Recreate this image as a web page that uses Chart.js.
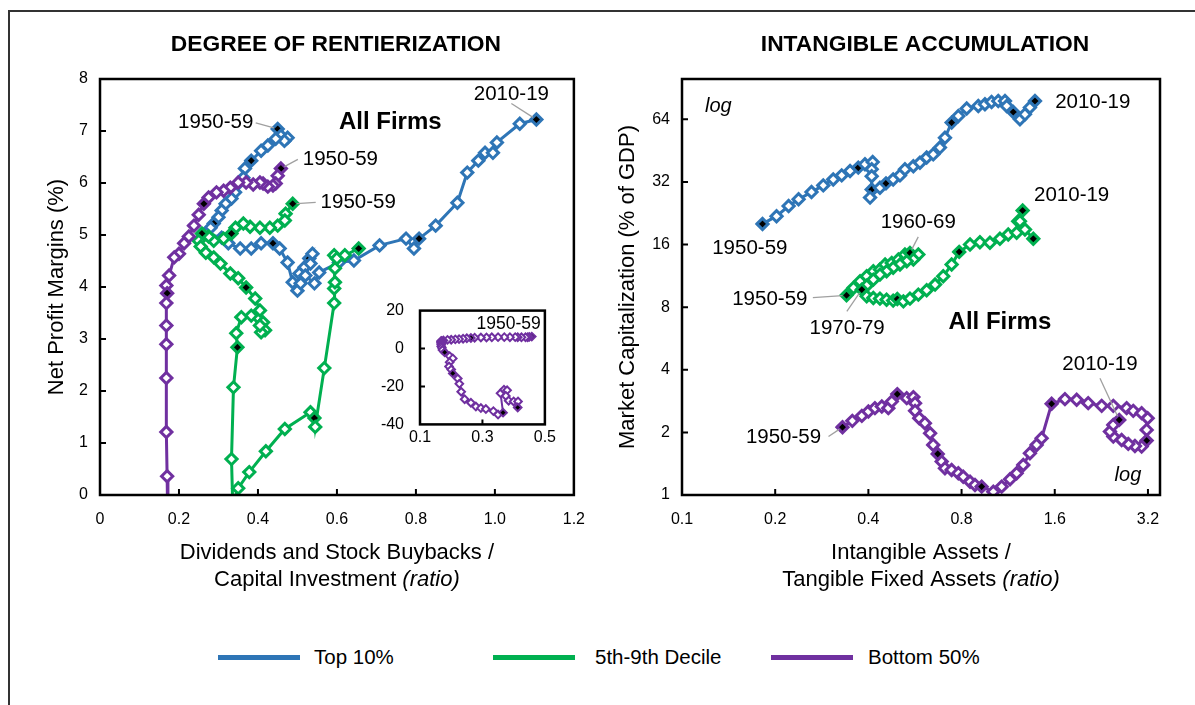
<!DOCTYPE html>
<html>
<head>
<meta charset="utf-8">
<script src="https://cdn.jsdelivr.net/npm/chart.js@4.4.0/dist/chart.umd.min.js"></script>
<style>
  body { margin: 0; background: #fff; }
  #page { position: relative; width: 1195px; height: 705px; overflow: hidden; font-family: 'Liberation Sans', Arial, sans-serif; background: #fff; }
  #frame { position: absolute; left: 8px; top: 10px; width: 1220px; height: 740px; border: 2px solid #333; box-sizing: border-box; }
  canvas { position: absolute; }
  .sw { position: absolute; height: 5px; width: 82px; top: 655px; }
  .lt { position: absolute; top: 645px; font-size: 20.5px; color: #000; }
</style>
</head>
<body>
<div id="page">
  <div id="frame"></div>
  <canvas id="rentChart" width="600" height="600" style="left:0;top:0"></canvas>
  <canvas id="insetChart" width="190" height="165" style="left:370px;top:285px"></canvas>
  <canvas id="intangChart" width="595" height="600" style="left:600px;top:0"></canvas>
  <div class="sw" style="left:218px;background:#2E75B6"></div><div class="lt" style="left:314px">Top 10%</div>
  <div class="sw" style="left:493px;background:#00B050"></div><div class="lt" style="left:595px">5th-9th Decile</div>
  <div class="sw" style="left:771px;background:#7030A0"></div><div class="lt" style="left:868px">Bottom 50%</div>
</div>
<script>
// ---- Degree of rentierization: payouts / investment (x) vs net profit margin % (y)
const rentTopX = [0.45,0.458,0.475,0.467,0.445,0.425,0.408,0.383,0.367,0.363,0.345,0.342,0.333,0.318,0.308,0.30,0.288,0.28,0.268,0.308,0.325,0.355,0.383,0.408,0.438,0.455,0.475,0.488,0.50,0.508,0.505,0.518,0.53,0.538,0.533,0.52,0.543,0.555,0.605,0.643,0.708,0.775,0.795,0.808,0.85,0.905,0.93,0.958,0.975,0.995,1.005,1.063,1.105];
const rentTopY = [7.04,6.91,6.87,6.81,6.85,6.72,6.62,6.43,6.28,6.10,5.95,5.82,5.70,5.60,5.47,5.34,5.22,5.14,5.03,4.95,4.84,4.74,4.74,4.84,4.84,4.74,4.47,4.09,3.93,4.07,4.26,4.38,4.55,4.64,4.45,4.22,4.07,4.28,4.47,4.51,4.80,4.93,4.74,4.93,5.18,5.62,6.20,6.43,6.58,6.58,6.78,7.14,7.22];
const rentTopMarks = [0,7,16,24,32,43,52];

const rentMidX = [0.488,0.47,0.468,0.45,0.43,0.405,0.38,0.363,0.343,0.333,0.313,0.288,0.275,0.258,0.25,0.255,0.268,0.288,0.305,0.33,0.35,0.37,0.393,0.405,0.413,0.418,0.408,0.405,0.383,0.358,0.345,0.348,0.338,0.333,0.336,0.35,0.378,0.42,0.468,0.533,0.543,0.545,0.568,0.593,0.593,0.595,0.595,0.593,0.60,0.62,0.655];
const rentMidY = [5.60,5.41,5.28,5.18,5.14,5.14,5.16,5.22,5.14,5.03,4.93,4.89,4.97,5.03,4.89,4.78,4.66,4.57,4.45,4.26,4.17,3.99,3.78,3.55,3.32,3.17,3.13,3.26,3.45,3.42,3.11,2.84,2.07,0.69,-0.15,0.13,0.44,0.84,1.27,1.59,1.48,1.31,2.44,3.69,3.97,4.09,4.36,4.61,4.55,4.61,4.74];
const rentMidMarks = [0,9,13,21,31,40,50];

const rentBotX = [0.458,0.45,0.445,0.438,0.425,0.413,0.405,0.388,0.37,0.35,0.33,0.313,0.295,0.275,0.263,0.25,0.238,0.225,0.213,0.20,0.188,0.175,0.168,0.17,0.168,0.168,0.168,0.168,0.168,0.17,0.172,0.179,0.195,0.205,0.195,0.193,0.20,0.205,0.221,0.226,0.232,0.243,0.263,0.279,0.295,0.311,0.335,0.35,0.366,0.358,0.369,0.379,0.375,0.384,0.40,0.414,0.413];
const rentBotY = [6.28,6.14,5.99,5.95,5.93,5.99,6.01,5.97,6.01,6.01,5.91,5.85,5.82,5.72,5.60,5.39,5.18,4.97,4.84,4.64,4.57,4.22,4.03,3.88,3.69,3.26,2.90,2.25,1.21,0.36,-0.8,-2.0,-4.0,-5.2,-7.2,-9.5,-11.1,-13.1,-15.8,-18.6,-22.8,-26.7,-28.6,-30.6,-31.4,-31.9,-33.0,-34.8,-33.8,-23.6,-21.7,-22.0,-25.0,-27.5,-27.9,-27.9,-31.1];
const rentBotMarks = [0,14,23,31,37,48,56];

// ---- Intangible accumulation: intangible / tangible fixed assets (x) vs market cap % of GDP (y), log-log
const intTopX = [0.182,0.202,0.221,0.238,0.262,0.286,0.308,0.328,0.349,0.371,0.39,0.413,0.41,0.41,0.41,0.405,0.436,0.456,0.481,0.506,0.525,0.559,0.587,0.617,0.648,0.681,0.707,0.743,0.781,0.831,0.906,0.952,1.0,1.051,1.105,1.119,1.175,1.235,1.282,1.33,1.381];
const intTopY = [20.1,21.9,24.5,26.4,28.6,30.8,32.9,34.4,36.1,37.5,38.9,39.9,36.8,34.1,29.4,26.9,30.0,31.5,32.9,34.4,36.8,38.1,39.6,41.9,43.4,46.8,52.2,61.7,66.4,72.1,74.2,75.6,77.6,78.4,78.4,74.2,69.4,64.0,67.6,72.9,78.4];
const intTopMarks = [0,9,14,17,27,36,40];

const intMidX = [0.34,0.358,0.376,0.395,0.415,0.436,0.453,0.476,0.50,0.525,0.545,0.58,0.559,0.532,0.506,0.481,0.458,0.436,0.415,0.395,0.381,0.395,0.415,0.436,0.458,0.481,0.496,0.519,0.545,0.58,0.617,0.657,0.698,0.743,0.786,0.852,0.917,0.988,1.064,1.132,1.205,1.219,1.26,1.235,1.282,1.364];
const intMidY = [9.12,9.90,10.65,11.26,11.90,12.13,12.82,13.06,13.55,14.32,14.59,14.32,13.55,13.30,12.82,12.36,11.90,11.47,10.85,10.15,9.71,9.02,8.86,8.79,8.69,8.60,8.76,8.53,8.79,9.19,9.64,10.27,11.26,12.82,14.75,16.0,16.42,16.31,17.05,17.88,18.22,20.72,23.33,20.72,18.9,17.05];
const intMidMarks = [0,10,20,26,34,42,45];

const intBotX = [0.33,0.355,0.381,0.40,0.42,0.442,0.464,0.476,0.496,0.532,0.559,0.566,0.566,0.584,0.609,0.633,0.648,0.67,0.69,0.707,0.743,0.781,0.81,0.852,0.884,0.929,1.013,1.078,1.147,1.205,1.266,1.33,1.398,1.451,1.563,1.726,1.883,2.052,2.268,2.473,2.731,2.869,3.053,3.193,3.169,3.169,3.053,2.905,2.764,2.631,2.473,2.412,2.473,2.585];
const intBotY = [2.119,2.272,2.401,2.519,2.616,2.663,2.616,2.815,3.055,2.922,2.955,2.765,2.538,2.341,2.215,1.982,1.741,1.576,1.447,1.344,1.32,1.272,1.225,1.159,1.117,1.097,1.037,1.097,1.19,1.272,1.395,1.588,1.741,1.875,2.744,2.89,2.868,2.765,2.683,2.683,2.616,2.538,2.475,2.341,2.056,1.826,1.709,1.722,1.761,1.84,1.909,2.018,2.173,2.297];
const intBotMarks = [0,8,17,25,34,45,53];

const intXTicks = [0.1, 0.2, 0.4, 0.8, 1.6, 3.2];
const intYTicks = [1, 2, 4, 8, 16, 32, 64];

const BLUE = '#2E75B6', GREEN = '#00B050', PURPLE = '#7030A0';
const FONT = "'Liberation Sans', Arial, sans-serif";
Chart.defaults.font.family = FONT;
Chart.defaults.color = '#000';

function series(label, xs, ys, marks, color, order, small) {
  return {
    label: label,
    data: xs.map((x, i) => ({ x: x, y: ys[i] })),
    showLine: true,
    tension: 0,
    order: order,
    borderColor: color,
    borderWidth: small ? 2 : 3,
    pointStyle: 'rectRot',
    pointRadius: small ? 3.8 : 5.6,
    pointBorderWidth: small ? 2 : 3,
    pointBorderColor: color,
    pointBackgroundColor: xs.map((_, i) => marks.includes(i) ? '#000' : '#fff')
  };
}

// frame, inside tick marks, annotations and mixed-style axis titles
const decoPlugin = {
  id: 'deco',
  beforeDatasetsDraw(chart, args, o) {
    if (!o.whiteArea) return;
    const a = chart.chartArea;
    chart.ctx.save();
    chart.ctx.fillStyle = '#fff';
    chart.ctx.fillRect(a.left, a.top, a.width, a.height);
    chart.ctx.restore();
  },
  afterDatasetsDraw(chart, args, o) {
    const { ctx, chartArea: a } = chart;
    const xs = chart.scales.x, ys = chart.scales.y;
    ctx.save();
    ctx.strokeStyle = '#000';
    ctx.lineWidth = 2;
    ctx.beginPath();
    xs.ticks.forEach(t => {
      const p = xs.getPixelForValue(t.value);
      if (p > a.left + 3 && p < a.right - 3) { ctx.moveTo(p, a.bottom); ctx.lineTo(p, a.bottom - o.tickLen); }
    });
    ys.ticks.forEach(t => {
      const p = ys.getPixelForValue(t.value);
      if (p > a.top + 3 && p < a.bottom - 3) { ctx.moveTo(a.left, p); ctx.lineTo(a.left + o.tickLen, p); }
    });
    ctx.stroke();
    ctx.lineWidth = o.frameWidth;
    ctx.strokeRect(a.left, a.top, a.width, a.height);

    ctx.textAlign = 'center';
    ctx.textBaseline = 'middle';
    (o.labels || []).forEach(l => {
      const pt = chart.getDatasetMeta(l.ds).data[l.i];
      if (l.lead) {
        const sx = pt.x + l.lead[0], sy = pt.y + l.lead[1];
        const vx = pt.x - sx, vy = pt.y - sy, d = Math.hypot(vx, vy);
        ctx.strokeStyle = '#a0a0a0';
        ctx.lineWidth = 1.3;
        ctx.beginPath();
        ctx.moveTo(sx, sy);
        ctx.lineTo(pt.x - vx / d * 4, pt.y - vy / d * 4);
        ctx.stroke();
      }
      ctx.fillStyle = '#000';
      ctx.font = o.labelFont;
      ctx.fillText(l.text, pt.x + l.dx, pt.y + l.dy);
    });
    (o.texts || []).forEach(t => {
      ctx.fillStyle = '#000';
      ctx.font = t.font;
      ctx.fillText(t.text, xs.getPixelForValue(t.x), ys.getPixelForValue(t.y));
    });
    if (o.title) {
      ctx.font = o.titleFont;
      ctx.fillText(o.title, (a.left + a.right) / 2 + (o.titleDx || 0), o.titleY);
    }
    // x axis title, can mix upright and italic parts
    (o.xTitle || []).forEach((line, k) => {
      const parts = line.map(p => ({ t: p.t, f: (p.it ? 'italic ' : '') + o.axisFont }));
      let w = 0;
      parts.forEach(p => { ctx.font = p.f; p.w = ctx.measureText(p.t).width; w += p.w; });
      let x = (a.left + a.right) / 2 - w / 2;
      ctx.textAlign = 'left';
      parts.forEach(p => { ctx.font = p.f; ctx.fillText(p.t, x, o.xTitleY[k]); x += p.w; });
      ctx.textAlign = 'center';
    });
    ctx.restore();
  }
};

const noGrid = { display: false, drawTicks: false };
const noBorder = { display: false };
const tickFont = { size: 16 };
const labelFont = '20.5px ' + FONT;
const axisFont = '22px ' + FONT;

new Chart(document.getElementById('rentChart'), {
  type: 'scatter',
  data: {
    datasets: [
      series('Top 10%', rentTopX, rentTopY, rentTopMarks, BLUE, 3),
      series('5th-9th Decile', rentMidX, rentMidY, rentMidMarks, GREEN, 2),
      series('Bottom 50%', rentBotX, rentBotY, rentBotMarks, PURPLE, 1)
    ].map(d => Object.assign(d, { clip: 0 }))
  },
  options: {
    responsive: false, animation: false, events: [],
    layout: { padding: { top: 79, right: 22, left: 0, bottom: 0 } },
    plugins: {
      legend: { display: false }, tooltip: { enabled: false },
      deco: {
        tickLen: 6, frameWidth: 2.5, labelFont: labelFont, axisFont: axisFont,
        title: 'DEGREE OF RENTIERIZATION', titleFont: 'bold 22.8px ' + FONT, titleY: 45, titleDx: -1,
        xTitle: [[{ t: 'Dividends and Stock Buybacks /' }], [{ t: 'Capital Investment ' }, { t: '(ratio)', it: true }]],
        xTitleY: [553, 580],
        labels: [
          { ds: 0, i: 0, text: '1950-59', dx: -62, dy: -7, lead: [-22, -6] },
          { ds: 2, i: 0, text: '1950-59', dx: 59.5, dy: -9, lead: [17, -9] },
          { ds: 1, i: 0, text: '1950-59', dx: 65.5, dy: -1.5, lead: [23, -1.5] },
          { ds: 0, i: rentTopX.length - 1, text: '2010-19', dx: -25, dy: -25, lead: [-25, -16] }
        ],
        texts: [{ text: 'All Firms', x: 0.735, y: 7.16, font: 'bold 24px ' + FONT }]
      }
    },
    scales: {
      x: {
        type: 'linear', min: 0, max: 1.2,
        afterFit: s => { s.height = 105; },
        grid: noGrid, border: noBorder,
        ticks: { stepSize: 0.2, padding: 15, font: tickFont }
      },
      y: {
        type: 'linear', min: 0, max: 8,
        afterFit: s => { s.width = 100; },
        grid: noGrid, border: noBorder,
        ticks: { stepSize: 1, padding: 12, font: tickFont },
        title: { display: true, text: 'Net Profit Margins (%)', font: { size: 22 }, padding: { top: 43.8, bottom: 0 } }
      }
    }
  },
  plugins: [decoPlugin]
});

// inset: the full bottom-50% path, including the negative margins
new Chart(document.getElementById('insetChart'), {
  type: 'scatter',
  data: { datasets: [series('Bottom 50%', rentBotX, rentBotY, rentBotMarks, PURPLE, 1, true)] },
  options: {
    responsive: false, animation: false, events: [],
    layout: { padding: { top: 12, right: 13, left: 0, bottom: 0 } },
    plugins: {
      legend: { display: false }, tooltip: { enabled: false },
      deco: {
        whiteArea: true, tickLen: 5, frameWidth: 2.5, labelFont: labelFont,
        texts: [{ text: '1950-59', x: 0.384, y: 13.1, font: '17.5px ' + FONT }]
      }
    },
    scales: {
      x: {
        type: 'linear', min: 0.1, max: 0.5,
        afterFit: s => { s.height = 25; },
        grid: noGrid, border: noBorder,
        ticks: { stepSize: 0.2, padding: 4, font: tickFont }
      },
      y: {
        type: 'linear', min: -40, max: 20,
        afterFit: s => { s.width = 50; },
        grid: noGrid, border: noBorder,
        ticks: { stepSize: 20, padding: 16, font: tickFont }
      }
    }
  },
  plugins: [decoPlugin]
});

new Chart(document.getElementById('intangChart'), {
  type: 'scatter',
  data: {
    datasets: [
      series('Top 10%', intTopX, intTopY, intTopMarks, BLUE, 3),
      series('5th-9th Decile', intMidX, intMidY, intMidMarks, GREEN, 2),
      series('Bottom 50%', intBotX, intBotY, intBotMarks, PURPLE, 1)
    ]
  },
  options: {
    responsive: false, animation: false, events: [],
    layout: { padding: { top: 79, right: 35, left: 0, bottom: 0 } },
    plugins: {
      legend: { display: false }, tooltip: { enabled: false },
      deco: {
        tickLen: 6, frameWidth: 2.5, labelFont: labelFont, axisFont: axisFont,
        title: 'INTANGIBLE ACCUMULATION', titleFont: 'bold 22.8px ' + FONT, titleY: 45, titleDx: 4,
        xTitle: [[{ t: 'Intangible Assets /' }], [{ t: 'Tangible Fixed Assets ' }, { t: '(ratio)', it: true }]],
        xTitleY: [553, 580],
        labels: [
          { ds: 0, i: 0, text: '1950-59', dx: -12.7, dy: 24 },
          { ds: 0, i: intTopX.length - 1, text: '2010-19', dx: 57.8, dy: 1.6 },
          { ds: 1, i: 10, text: '1960-69', dx: 8.3, dy: -30.6, lead: [8.3, -16] },
          { ds: 1, i: 0, text: '1950-59', dx: -76.7, dy: 3.6, lead: [-33.7, 2.3] },
          { ds: 1, i: 20, text: '1970-79', dx: -14.7, dy: 38.3, lead: [-15, 21.7] },
          { ds: 1, i: 42, text: '2010-19', dx: 49, dy: -15 },
          { ds: 2, i: 0, text: '1950-59', dx: -59, dy: 10.4, lead: [-14, 9.4] },
          { ds: 2, i: intBotX.length - 1, text: '2010-19', dx: -19.3, dy: -56, lead: [-19.3, -41.7] }
        ],
        texts: [
          { text: 'All Firms', x: 1.064, y: 6.74, font: 'bold 24px ' + FONT },
          { text: 'log', x: 0.131, y: 74.2, font: 'italic 20px ' + FONT },
          { text: 'log', x: 2.757, y: 1.248, font: 'italic 20px ' + FONT }
        ]
      }
    },
    scales: {
      x: {
        type: 'logarithmic', min: 0.1, max: 3.5,
        afterFit: s => { s.height = 105; },
        afterBuildTicks: s => { s.ticks = intXTicks.map(v => ({ value: v })); },
        grid: noGrid, border: noBorder,
        ticks: { padding: 15, font: tickFont, callback: v => String(v) }
      },
      y: {
        type: 'logarithmic', min: 1, max: 100,
        afterFit: s => { s.width = 82; },
        afterBuildTicks: s => { s.ticks = intYTicks.map(v => ({ value: v })); },
        grid: noGrid, border: noBorder,
        ticks: { padding: 12, font: tickFont, callback: v => String(v) },
        title: { display: true, text: 'Market Capitalization (% of GDP)', font: { size: 22 }, padding: { top: 14.8, bottom: 0 } }
      }
    }
  },
  plugins: [decoPlugin]
});
</script>
</body>
</html>
